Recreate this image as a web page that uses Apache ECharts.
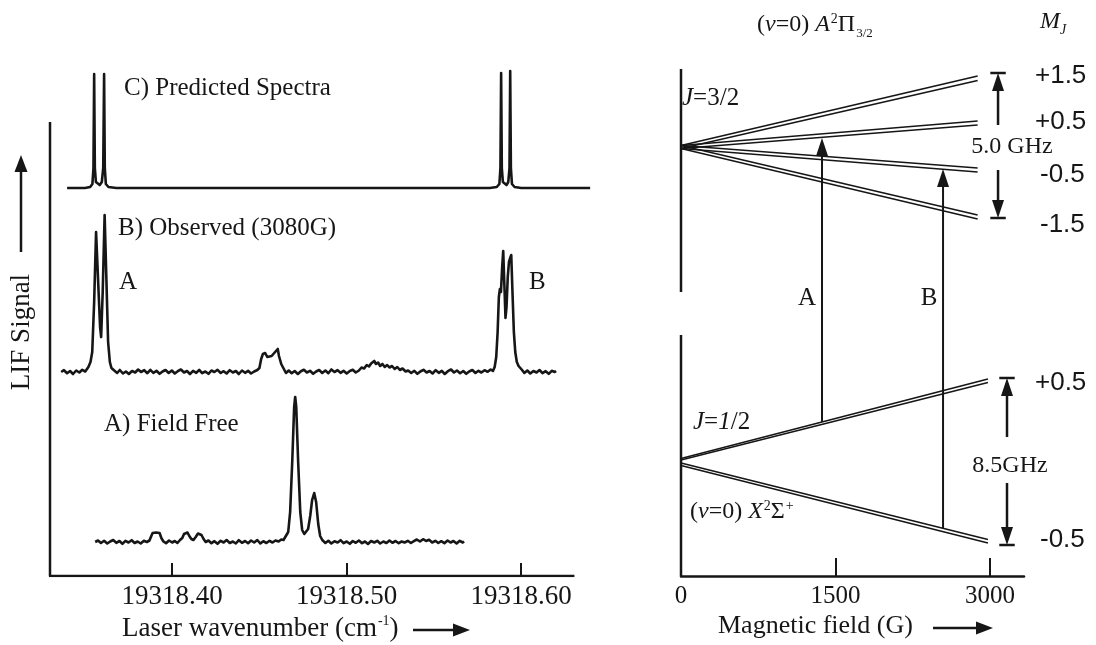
<!DOCTYPE html>
<html>
<head>
<meta charset="utf-8">
<script src="https://cdn.jsdelivr.net/npm/echarts@6/dist/echarts.min.js"></script>
<style>
  html, body { margin: 0; padding: 0; background: #fff; }
  #chart { width: 1096px; height: 645px; }
</style>
</head>
<body>
<div id="chart"></div>
<script>
// ---------- Left panel: LIF spectra (wavenumber in cm^-1, signal in arb. units) ----------
const wavenumberTicks = [19318.40, 19318.50, 19318.60];

// C) predicted spectrum at 3080 G
const predictedC = [
  [19318.3398, 0], [19318.3500, 0], [19318.3530, 0.1], [19318.3543, 0.4], [19318.3549, 2.0],
  [19318.3553, 11.4], [19318.3557, 2.0], [19318.3563, 0.6], [19318.3574, 0.4], [19318.3585, 0.3],
  [19318.3597, 0.6], [19318.3605, 2.0], [19318.3610, 11.4], [19318.3614, 2.0], [19318.3620, 0.4],
  [19318.3635, 0.1], [19318.3680, 0],
  [19318.5820, 0], [19318.5860, 0.1], [19318.5875, 0.4], [19318.5881, 2.0], [19318.5885, 11.5],
  [19318.5889, 2.0], [19318.5895, 0.6], [19318.5905, 0.4], [19318.5916, 0.3], [19318.5926, 0.6],
  [19318.5933, 2.0], [19318.5937, 11.7], [19318.5941, 2.0], [19318.5947, 0.4], [19318.5962, 0.1],
  [19318.6000, 0], [19318.6395, 0]
];

// B) observed spectrum at 3080 G
const observedB = [
  [19318.3364, 0.00], [19318.3380, 0.18], [19318.3398, -0.12], [19318.3415, 0.10], [19318.3432, -0.20],
  [19318.3450, 0.15], [19318.3468, -0.05], [19318.3485, 0.22], [19318.3502, 0.05],
  [19318.3520, 0.50], [19318.3532, 1.00], [19318.3542, 2.00], [19318.3553, 7.00], [19318.3564, 14.00],
  [19318.3576, 9.00], [19318.3587, 4.50], [19318.3593, 3.50], [19318.3602, 8.00], [19318.3613, 15.70],
  [19318.3622, 10.00], [19318.3633, 3.00], [19318.3643, 1.00], [19318.3652, 0.40],
  [19318.3668, 0.15], [19318.3685, -0.10], [19318.3700, 0.20], [19318.3718, -0.15], [19318.3735, 0.05],
  [19318.3752, -0.20], [19318.3770, 0.10], [19318.3788, -0.05], [19318.3805, 0.25], [19318.3822, 0.00],
  [19318.3840, 0.18], [19318.3858, -0.12], [19318.3875, 0.22], [19318.3892, -0.08], [19318.3910, 0.12],
  [19318.3928, -0.18], [19318.3945, 0.05], [19318.3962, 0.20], [19318.3980, -0.10], [19318.3998, 0.15],
  [19318.4015, -0.15], [19318.4032, 0.08], [19318.4050, 0.25], [19318.4068, -0.05], [19318.4085, 0.10],
  [19318.4102, -0.20], [19318.4120, 0.12], [19318.4138, -0.08], [19318.4155, 0.20], [19318.4172, -0.12],
  [19318.4190, 0.05], [19318.4208, -0.18], [19318.4225, 0.15], [19318.4242, 0.00], [19318.4260, 0.22],
  [19318.4278, -0.10], [19318.4295, 0.08], [19318.4312, -0.15], [19318.4330, 0.18], [19318.4348, -0.05],
  [19318.4365, 0.10], [19318.4382, -0.20], [19318.4400, 0.15], [19318.4418, -0.08], [19318.4435, 0.12],
  [19318.4452, -0.15], [19318.4470, 0.05], [19318.4488, 0.20],
  [19318.4500, 0.40], [19318.4510, 1.30], [19318.4520, 1.80], [19318.4533, 1.90], [19318.4545, 1.50],
  [19318.4555, 1.70], [19318.4570, 1.60], [19318.4585, 1.90], [19318.4595, 2.10], [19318.4605, 2.30],
  [19318.4612, 1.60], [19318.4625, 0.80], [19318.4640, 0.30], [19318.4652, -0.10],
  [19318.4668, 0.15], [19318.4685, -0.12], [19318.4702, 0.10], [19318.4720, -0.20], [19318.4738, 0.08],
  [19318.4755, 0.22], [19318.4772, -0.05], [19318.4790, 0.12], [19318.4808, -0.18], [19318.4825, 0.05],
  [19318.4842, 0.20], [19318.4860, -0.10], [19318.4878, 0.15], [19318.4895, -0.12], [19318.4912, 0.25],
  [19318.4930, 0.00], [19318.4948, 0.18], [19318.4965, -0.08], [19318.4982, 0.12], [19318.5000, -0.15],
  [19318.5018, 0.10], [19318.5035, 0.22], [19318.5052, -0.05], [19318.5070, 0.15],
  [19318.5085, 0.45], [19318.5100, 0.35], [19318.5115, 0.70], [19318.5128, 0.55], [19318.5140, 0.85],
  [19318.5150, 0.75], [19318.5158, 1.10], [19318.5168, 0.80], [19318.5180, 0.95], [19318.5192, 0.60],
  [19318.5205, 0.80], [19318.5218, 0.50], [19318.5232, 0.70], [19318.5245, 0.45], [19318.5260, 0.60],
  [19318.5275, 0.30], [19318.5290, 0.50], [19318.5305, 0.20], [19318.5320, 0.35], [19318.5338, 0.05],
  [19318.5352, 0.15], [19318.5370, -0.10], [19318.5388, 0.12], [19318.5405, -0.18], [19318.5422, 0.05],
  [19318.5440, 0.22], [19318.5458, -0.05], [19318.5475, 0.10], [19318.5492, -0.15], [19318.5510, 0.18],
  [19318.5528, -0.08], [19318.5545, 0.12], [19318.5562, -0.20], [19318.5580, 0.08], [19318.5598, 0.25],
  [19318.5615, -0.05], [19318.5632, 0.15], [19318.5650, -0.12], [19318.5668, 0.10], [19318.5685, -0.18],
  [19318.5702, 0.05], [19318.5720, 0.20], [19318.5738, -0.10], [19318.5755, 0.12], [19318.5772, -0.05],
  [19318.5790, 0.18], [19318.5808, 0.02], [19318.5825, 0.25], [19318.5838, 0.10],
  [19318.5848, 0.50], [19318.5857, 1.50], [19318.5865, 4.00], [19318.5872, 7.50], [19318.5878, 8.30],
  [19318.5884, 8.00], [19318.5891, 10.50], [19318.5897, 12.10], [19318.5904, 8.50], [19318.5910, 5.40],
  [19318.5916, 6.50], [19318.5923, 9.50], [19318.5930, 11.00], [19318.5937, 11.40], [19318.5943, 11.70],
  [19318.5950, 8.00], [19318.5958, 4.00], [19318.5966, 2.00], [19318.5975, 1.00], [19318.5985, 0.60],
  [19318.5995, 0.50], [19318.6005, 0.20],
  [19318.6018, -0.10], [19318.6035, 0.15], [19318.6052, -0.15], [19318.6070, 0.10], [19318.6088, -0.05],
  [19318.6105, 0.20], [19318.6122, -0.12], [19318.6140, 0.08], [19318.6158, -0.18], [19318.6175, 0.12],
  [19318.6192, 0.00], [19318.6200, 0.10]
];

// A) field-free spectrum
const fieldFreeA = [
  [19318.3559, 0.00], [19318.3575, 0.15], [19318.3592, -0.10], [19318.3610, 0.12], [19318.3628, -0.15],
  [19318.3645, 0.05], [19318.3662, 0.20], [19318.3680, -0.08], [19318.3698, 0.10], [19318.3715, -0.18],
  [19318.3732, 0.12], [19318.3750, -0.05], [19318.3768, 0.18], [19318.3785, -0.10], [19318.3802, 0.05],
  [19318.3820, -0.15], [19318.3838, 0.12], [19318.3855, 0.00], [19318.3870, 0.15],
  [19318.3878, 0.50], [19318.3888, 0.90], [19318.3898, 0.75], [19318.3908, 0.95], [19318.3918, 0.80],
  [19318.3928, 0.90], [19318.3938, 0.40], [19318.3950, 0.05],
  [19318.3965, -0.12], [19318.3982, 0.15], [19318.4000, -0.05], [19318.4015, 0.10], [19318.4030, -0.10],
  [19318.4045, 0.20],
  [19318.4058, 0.40], [19318.4068, 0.80], [19318.4078, 1.00], [19318.4088, 0.95], [19318.4098, 0.60],
  [19318.4110, 0.30], [19318.4122, 0.20], [19318.4135, 0.50], [19318.4148, 0.85], [19318.4158, 1.05],
  [19318.4168, 0.70], [19318.4180, 0.30], [19318.4192, 0.00],
  [19318.4208, 0.15], [19318.4225, -0.12], [19318.4242, 0.08], [19318.4260, -0.18], [19318.4278, 0.12],
  [19318.4295, -0.05], [19318.4312, 0.20], [19318.4330, -0.10], [19318.4348, 0.05], [19318.4365, -0.15],
  [19318.4382, 0.18], [19318.4400, -0.08], [19318.4418, 0.10], [19318.4435, -0.12], [19318.4452, 0.15],
  [19318.4470, -0.05], [19318.4488, 0.20], [19318.4505, -0.15], [19318.4522, 0.08], [19318.4540, -0.10],
  [19318.4558, 0.12], [19318.4575, -0.05], [19318.4592, 0.15], [19318.4610, 0.05], [19318.4625, 0.25],
  [19318.4638, 0.20],
  [19318.4648, 0.30], [19318.4665, 1.00], [19318.4676, 3.00], [19318.4688, 8.00], [19318.4699, 13.50],
  [19318.4705, 14.50], [19318.4711, 13.50], [19318.4722, 8.00], [19318.4734, 3.00], [19318.4745, 1.20],
  [19318.4757, 0.80], [19318.4768, 0.80], [19318.4779, 1.30], [19318.4791, 2.60], [19318.4802, 4.20],
  [19318.4814, 4.90], [19318.4825, 4.00], [19318.4837, 1.80], [19318.4848, 0.60], [19318.4860, 0.20],
  [19318.4878, -0.10], [19318.4895, 0.12], [19318.4912, -0.15], [19318.4930, 0.08], [19318.4948, -0.05],
  [19318.4965, 0.18], [19318.4982, -0.12], [19318.5000, 0.05], [19318.5018, -0.18], [19318.5035, 0.10],
  [19318.5052, -0.08], [19318.5070, 0.15], [19318.5088, -0.12], [19318.5105, 0.05], [19318.5122, -0.20],
  [19318.5140, 0.10], [19318.5158, -0.05], [19318.5175, 0.12], [19318.5192, -0.15], [19318.5210, 0.05],
  [19318.5228, -0.10], [19318.5245, 0.15], [19318.5262, -0.08], [19318.5280, 0.10], [19318.5298, -0.12],
  [19318.5315, 0.05], [19318.5332, -0.05], [19318.5350, 0.12], [19318.5368, -0.10], [19318.5385, 0.08],
  [19318.5402, 0.25], [19318.5420, 0.05], [19318.5438, 0.28], [19318.5455, 0.10], [19318.5472, 0.22],
  [19318.5490, -0.05], [19318.5508, 0.12], [19318.5525, -0.10], [19318.5542, 0.08], [19318.5560, -0.12],
  [19318.5578, 0.15], [19318.5595, -0.05], [19318.5612, 0.10], [19318.5630, -0.15], [19318.5648, 0.12],
  [19318.5665, -0.05], [19318.5673, 0.05]
];

// vertical stacking of the three traces (signal units)
const baselineA = 3.4;
const baselineB = 20.4;
const baselineC = 38.8;

// ---------- Right panel: Zeeman diagram (field in G, energy in arb. units) ----------
const fieldTicks = [1500, 3000];
const fieldLabels = [0, 1500, 3000];

// A2Pi3/2, J=3/2 : each M_J level drawn as a close pair of lines
const upperMJ = ['+1.5', '+0.5', '-0.5', '-1.5'];
const upperZeroE = [43.05, 42.75];
const upperFieldEnd = 2880;
const upperEndE = [[50.0, 49.55], [45.5, 45.1], [40.8, 40.4], [36.1, 35.7]];

// X2Sigma+, J=1/2
const lowerMJ = ['+0.5', '-0.5'];
const lowerZeroE = [[11.75, 11.6], [11.3, 11.05]];
const lowerFieldEnd = 2980;
const lowerEndE = [[19.7, 19.35], [3.65, 3.3]];

// observed transitions A and B
const transitionNames = ['A', 'B'];
const transitionField = [1369, 2544];
const transitionLowerE = [15.4, 4.8];
const transitionUpperE = [43.8, 40.7];

// total splitting markers
const splitNames = ['5.0 GHz', '8.5GHz'];
const splitField = [3078, 3165];
const splitTopE = [50.3, 19.8];
const splitBottomE = [35.8, 3.1];
const splitShaftStopE = [[45.1, 40.6], [13.9, 9.3]];

// ---------- drawing ----------
const INK = '#161616';
const SERIF = '"Liberation Serif", "Times New Roman", serif';
const SANS = '"Liberation Sans", Arial, sans-serif';

const chart = echarts.init(document.getElementById('chart'), null, { renderer: 'canvas' });

function lineSeries(idx, data, width, extra) {
  return Object.assign({
    type: 'line', xAxisIndex: idx, yAxisIndex: idx, data: data,
    symbol: 'none', silent: true, animation: false,
    lineStyle: { color: INK, width: width, cap: 'butt', join: 'round' }
  }, extra || {});
}
function arrowHeads(idx, data, up) {
  return {
    type: 'scatter', xAxisIndex: idx, yAxisIndex: idx, data: data, silent: true, clip: false,
    symbol: 'triangle', symbolSize: [12, 18], symbolRotate: up ? 0 : 180,
    symbolOffset: [0, up ? 9 : -9], itemStyle: { color: INK, opacity: 1 }, z: 4
  };
}
const offsetTrace = (data, base) => data.map(([w, s]) => [w, s + base]);

const series = [];
// left frame
series.push(lineSeries(0, [[19318.33, 45.4], [19318.33, 0], [19318.6305, 0]], 2.5));
series.push(lineSeries(0, offsetTrace(predictedC, baselineC), 2.6));
series.push(lineSeries(0, offsetTrace(observedB, baselineB), 2.6));
series.push(lineSeries(0, offsetTrace(fieldFreeA, baselineA), 2.6));

// right: J bars
series.push(lineSeries(1, [[0, 50.7], [0, 28.4]], 2.5, { clip: false }));
series.push(lineSeries(1, [[0, 24.1], [0, 0]], 2.5, { clip: false }));
// Zeeman levels
upperEndE.forEach(pair => pair.forEach((e, k) => {
  series.push(lineSeries(1, [[0, upperZeroE[k]], [upperFieldEnd, e]], 1.7));
}));
lowerEndE.forEach((pair, m) => pair.forEach((e, k) => {
  series.push(lineSeries(1, [[0, lowerZeroE[m][k]], [lowerFieldEnd, e]], 1.7));
}));
// transitions
transitionField.forEach((f, i) => {
  series.push(lineSeries(1, [[f, transitionLowerE[i]], [f, transitionUpperE[i] - 0.6]], 2));
});
series.push(arrowHeads(1, transitionField.map((f, i) => [f, transitionUpperE[i]]), true));
// splitting markers
splitField.forEach((f, i) => {
  series.push(lineSeries(1, [[f, splitShaftStopE[i][0]], [f, splitTopE[i] - 1]], 2.5, { clip: false }));
  series.push(lineSeries(1, [[f, splitShaftStopE[i][1]], [f, splitBottomE[i] + 1]], 2.5, { clip: false }));
  series.push(lineSeries(1, [[f - 75, splitTopE[i]], [f + 75, splitTopE[i]]], 2.5, { clip: false }));
  series.push(lineSeries(1, [[f - 75, splitBottomE[i]], [f + 75, splitBottomE[i]]], 2.5, { clip: false }));
});
series.push(arrowHeads(1, splitField.map((f, i) => [f, splitTopE[i]]), true));
series.push(arrowHeads(1, splitField.map((f, i) => [f, splitBottomE[i]]), false));

// ---------- text and title arrows ----------
function text(x, y, str, size, opt) {
  return {
    type: 'text', x: x, y: y, silent: true, z: 10,
    rotation: (opt && opt.rotation) || 0,
    style: Object.assign({
      text: str, fill: INK, fontFamily: SERIF, fontSize: size,
      align: 'left', verticalAlign: 'middle', textAlign: 'left', textVerticalAlign: 'middle'
    }, (opt && opt.style) || {})
  };
}
function richStyles(size) {
  return {
    n: { fontFamily: SERIF, fontSize: size, lineHeight: size + 6, fill: INK },
    i: { fontFamily: SERIF, fontSize: size, fontStyle: 'italic', lineHeight: size + 6, fill: INK },
    sup: { fontFamily: SERIF, fontSize: 14, lineHeight: 14, verticalAlign: 'top', padding: [2, 0, 0, 1], fill: INK },
    sub: { fontFamily: SERIF, fontSize: 13, lineHeight: 13, verticalAlign: 'bottom', padding: [0, 0, 0, 1], fill: INK },
    isub: { fontFamily: SERIF, fontSize: 14, fontStyle: 'italic', lineHeight: 14, verticalAlign: 'bottom', fill: INK }
  };
}
function arrow(x1, y1, x2, y2) {
  const L = Math.hypot(x2 - x1, y2 - y1), ux = (x2 - x1) / L, uy = (y2 - y1) / L;
  const head = 17, half = 6.5;
  const bx = x2 - ux * head, by = y2 - uy * head;
  return [
    { type: 'line', silent: true, shape: { x1: x1, y1: y1, x2: bx + ux, y2: by + uy }, style: { stroke: INK, lineWidth: 2.5 } },
    { type: 'polygon', silent: true, shape: { points: [[x2, y2], [bx - uy * half, by + ux * half], [bx + uy * half, by - ux * half]] }, style: { fill: INK } }
  ];
}

const graphics = [
  text(124, 88, 'C) Predicted Spectra', 25),
  text(118, 228, 'B) Observed (3080G)', 25),
  text(119, 282, 'A', 25),
  text(529, 282, 'B', 25),
  text(104, 424, 'A) Field Free', 25),
  text(22, 332, 'LIF Signal', 27, { rotation: Math.PI / 2, style: { align: 'center', textAlign: 'center' } }),
  text(122, 629, '{n|Laser wavenumber (cm}{sup|-1}{n|)}', 27, { style: { rich: richStyles(27) } }),
  ...arrow(21, 252, 21, 155),
  ...arrow(413, 630, 470, 630),

  text(757, 25, '{n|(}{i|v}{n|=0) }{i|A}{sup|2}{n|Π}{sub|3/2}', 24, { style: { rich: richStyles(24) } }),
  text(1040, 22, '{i|M}{isub|J}', 24, { style: { rich: richStyles(24) } }),
  text(682, 98, '{i|J}{n|=3/2}', 25, { style: { rich: richStyles(25) } }),
  text(693, 422, '{i|J}{n|=}{i|1}{n|/2}', 25, { style: { rich: richStyles(25) } }),
  text(690, 512, '{n|(}{i|v}{n|=0) }{i|X}{sup|2}{n|Σ}{sup|+}', 24, { style: { rich: richStyles(24) } }),
  text(807, 298, transitionNames[0], 25, { style: { align: 'center', textAlign: 'center' } }),
  text(929, 298, transitionNames[1], 25, { style: { align: 'center', textAlign: 'center' } }),
  text(1012, 147, splitNames[0], 24, { style: { align: 'center', textAlign: 'center' } }),
  text(1010, 466, splitNames[1], 24, { style: { align: 'center', textAlign: 'center' } }),
  text(718, 626, 'Magnetic field (G)', 26),
  ...arrow(933, 628, 993, 628)
];
// M_J labels beside the level ends
const upperLabelY = [76, 122, 175, 225];
upperMJ.forEach((s, i) => graphics.push(text(s[0] === '+' ? 1035 : 1040, upperLabelY[i], s, 26, { style: { fontFamily: SANS } })));
const lowerLabelY = [383, 540];
lowerMJ.forEach((s, i) => graphics.push(text(s[0] === '+' ? 1035 : 1040, lowerLabelY[i], s, 26, { style: { fontFamily: SANS } })));

const option = {
  backgroundColor: '#ffffff',
  animation: false,
  grid: [
    { left: 50, right: 505, top: 56, bottom: 69, outerBoundsMode: 'none' },
    { left: 681, right: 72, top: 56, bottom: 69, outerBoundsMode: 'none' }
  ],
  xAxis: [
    {
      gridIndex: 0, type: 'value', min: 19318.33, max: 19318.64,
      axisLine: { show: false }, splitLine: { show: false },
      axisTick: { show: true, inside: true, length: 13, customValues: wavenumberTicks, lineStyle: { color: INK, width: 2 } },
      axisLabel: {
        customValues: wavenumberTicks, formatter: v => v.toFixed(2),
        fontFamily: SERIF, fontSize: 27, color: INK, margin: 7
      }
    },
    {
      gridIndex: 1, type: 'value', min: 0, max: 3330,
      axisLine: { show: true, lineStyle: { color: INK, width: 2.5 } }, splitLine: { show: false },
      axisTick: { show: true, inside: true, length: 18, customValues: fieldTicks, lineStyle: { color: INK, width: 2 } },
      axisLabel: {
        customValues: fieldLabels, formatter: v => String(v),
        fontFamily: SERIF, fontSize: 25, color: INK, margin: 8
      }
    }
  ],
  yAxis: [
    { gridIndex: 0, type: 'value', min: 0, max: 52, show: false },
    { gridIndex: 1, type: 'value', min: 0, max: 52, show: false }
  ],
  series: series,
  graphic: { elements: graphics }
};
chart.setOption(option);
</script>
</body>
</html>
